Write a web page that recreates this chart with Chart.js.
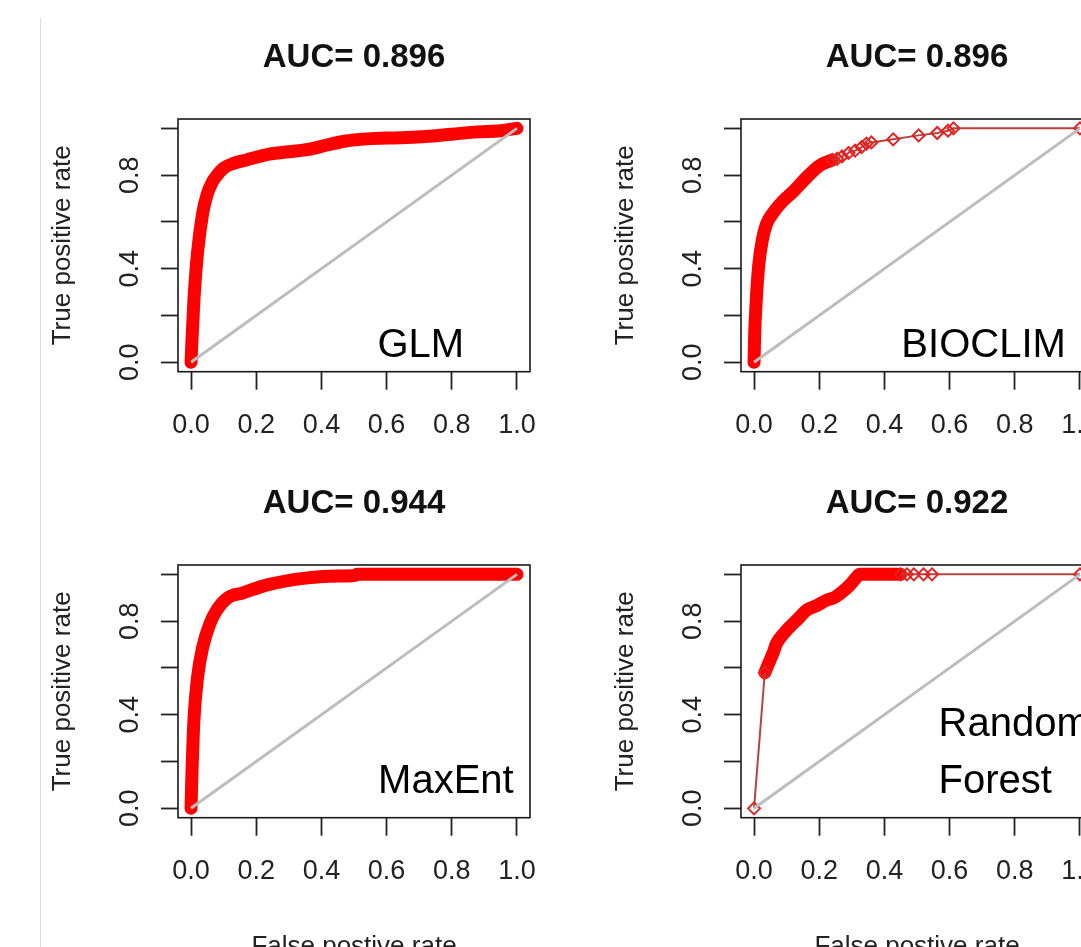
<!DOCTYPE html>
<html>
<head>
<meta charset="utf-8">
<title>ROC curves</title>
<script src="https://cdn.jsdelivr.net/npm/chart.js@4.4.1/dist/chart.umd.min.js"></script>
<style>
html, body { margin: 0; padding: 0; background: #fff; width: 1081px; height: 947px; overflow: hidden; }
.panel { position: absolute; }
#edge { position: absolute; left: 40px; top: 18px; width: 1px; height: 940px; background: #dcdcdc; }
</style>
</head>
<body>
<div id="edge"></div>
<canvas id="glm" class="panel" width="563" height="470" style="left:0px;top:0px"></canvas>
<canvas id="bio" class="panel" width="563" height="470" style="left:563px;top:0px"></canvas>
<canvas id="max" class="panel" width="563" height="510" style="left:0px;top:446px"></canvas>
<canvas id="rf" class="panel" width="563" height="510" style="left:563px;top:446px"></canvas>
<script>
// axis ticks (R skips the overlapping y labels)
var xTicks = [0, 0.2, 0.4, 0.6, 0.8, 1.0];
var yTicks = [0, 0.2, 0.4, 0.6, 0.8, 1.0];
var yTickLabels = ['0.0', '', '0.4', '', '0.8', ''];

var titles = ['AUC= 0.896', 'AUC= 0.896', 'AUC= 0.944', 'AUC= 0.922'];
var modelNames = [['GLM'], ['BIOCLIM'], ['MaxEnt'], ['Random', 'Forest']];
var xTitle = 'False postive rate';
var yTitle = 'True positive rate';

// diagonal reference line
var diagFpr = [0, 1];
var diagTpr = [0, 1];

// GLM
var glmFpr = [0, 0.003, 0.009, 0.02, 0.036, 0.05, 0.065, 0.08, 0.1, 0.13, 0.17, 0.24, 0.3, 0.36, 0.42, 0.47, 0.54, 0.64, 0.72, 0.8, 0.88, 0.95, 1.0];
var glmTpr = [0, 0.1, 0.27, 0.47, 0.64, 0.72, 0.77, 0.8, 0.83, 0.85, 0.865, 0.89, 0.9, 0.91, 0.93, 0.945, 0.955, 0.96, 0.965, 0.975, 0.985, 0.99, 1.0];

// BIOCLIM, dense part and the sparse points after it
var bioFpr = [0, 0.002, 0.007, 0.014, 0.025, 0.038, 0.059, 0.089, 0.12, 0.161, 0.2, 0.24];
var bioTpr = [0, 0.12, 0.27, 0.41, 0.52, 0.59, 0.64, 0.69, 0.73, 0.79, 0.84, 0.865];
var bioPtsFpr = [0.24, 0.255, 0.27, 0.29, 0.31, 0.33, 0.345, 0.36, 0.427, 0.505, 0.562, 0.595, 0.612, 1.0];
var bioPtsTpr = [0.865, 0.87, 0.88, 0.895, 0.905, 0.92, 0.935, 0.94, 0.953, 0.97, 0.98, 0.99, 1.0, 1.0];

// MaxEnt
var maxFpr = [0, 0.003, 0.009, 0.02, 0.036, 0.058, 0.08, 0.113, 0.157, 0.234, 0.344, 0.453, 0.5, 0.51, 0.6, 0.8, 1.0];
var maxTpr = [0, 0.16, 0.38, 0.56, 0.69, 0.79, 0.85, 0.9, 0.92, 0.955, 0.983, 0.993, 0.995, 1.0, 1.0, 1.0, 1.0];

// Random Forest
var rfFpr = [0.033, 0.045, 0.06, 0.069, 0.09, 0.11, 0.135, 0.161, 0.19, 0.223, 0.245, 0.264, 0.294, 0.31, 0.325, 0.39, 0.45];
var rfTpr = [0.58, 0.62, 0.67, 0.705, 0.745, 0.776, 0.81, 0.847, 0.865, 0.89, 0.9, 0.918, 0.954, 0.98, 1.0, 1.0, 1.0];
var rfPtsFpr = [0, 0.033, null, 0.45, 0.469, 0.49, 0.52, 0.546, 1.0];
var rfPtsTpr = [0, 0.58, null, 1.0, 1.0, 1.0, 1.0, 1.0, 1.0];

var FONT = '"Liberation Sans", Arial, sans-serif';

function pts(xs, ys) {
    var out = [];
    for (var i = 0; i < xs.length; i++) out.push({x: xs[i], y: ys[i]});
    return out;
}

// box, y labels, titles and model name, drawn with the chart's own scales
var framePlugin = {
    id: 'frame',
    afterDraw: function(chart) {
        var ctx = chart.ctx, a = chart.chartArea;
        var xs = chart.scales.x, ys = chart.scales.y;
        var p = chart.options.plugins.frame;
        ctx.save();
        ctx.strokeStyle = '#1a1a1a';
        ctx.lineWidth = 1.6;
        ctx.strokeRect(a.left, a.top, a.right - a.left, a.bottom - a.top);

        ctx.fillStyle = '#222';
        ctx.textAlign = 'center';
        ctx.textBaseline = 'alphabetic';
        ctx.font = '27px ' + FONT;
        for (var i = 0; i < yTicks.length; i++) {
            if (!yTickLabels[i]) continue;
            ctx.save();
            ctx.translate(a.left - 40, ys.getPixelForValue(yTicks[i]));
            ctx.rotate(-Math.PI / 2);
            ctx.fillText(yTickLabels[i], 0, 0);
            ctx.restore();
        }

        ctx.font = '26px ' + FONT;
        ctx.save();
        ctx.translate(a.left - 108, (a.top + a.bottom) / 2);
        ctx.rotate(-Math.PI / 2);
        ctx.fillText(yTitle, 0, 0);
        ctx.restore();

        if (p.xlab) ctx.fillText(xTitle, (a.left + a.right) / 2, a.bottom + 136);

        ctx.fillStyle = '#111';
        ctx.font = 'bold 33px ' + FONT;
        ctx.fillText(p.title, (a.left + a.right) / 2, a.top - 52);

        ctx.fillStyle = '#000';
        ctx.font = '40px ' + FONT;
        ctx.textAlign = 'left';
        for (var j = 0; j < p.name.length; j++) {
            ctx.fillText(p.name[j], xs.getPixelForValue(p.at[0]), ys.getPixelForValue(p.at[1]) + j * 57);
        }
        ctx.restore();
    }
};

function makePanel(id, height, idx, at, xlab, thick, sparse) {
    var datasets = [{
        data: pts(diagFpr, diagTpr),
        borderColor: '#bdbdbd',
        borderWidth: 3,
        pointRadius: 0
    }];
    if (sparse) {
        datasets.push({
            data: pts(sparse[0], sparse[1]),
            borderColor: '#b5433f',
            borderWidth: 2,
            pointStyle: 'rectRot',
            pointRadius: 6,
            pointBorderWidth: 2,
            pointBorderColor: '#e32222',
            pointBackgroundColor: 'rgba(255,255,255,0)',
            spanGaps: false
        });
    }
    datasets.push({
        data: pts(thick[0], thick[1]),
        borderColor: '#ff0000',
        borderWidth: 13,
        borderCapStyle: 'round',
        borderJoinStyle: 'round',
        cubicInterpolationMode: 'monotone',
        pointRadius: 0
    });

    var tickGrid = function(len) {
        return { display: true, drawOnChartArea: false, drawTicks: true, tickLength: len, tickColor: '#222', tickWidth: 1.8 };
    };

    new Chart(document.getElementById(id), {
        type: 'scatter',
        data: { datasets: datasets },
        options: {
            responsive: false,
            animation: false,
            events: [],
            showLine: true,
            layout: { padding: { left: 160, top: 119, right: 33, bottom: height - 119 - 252.7 - 80 } },
            plugins: {
                legend: { display: false },
                tooltip: { enabled: false },
                frame: { title: titles[idx], name: modelNames[idx], at: at, xlab: xlab }
            },
            scales: {
                x: {
                    type: 'linear', min: -0.04, max: 1.04,
                    afterBuildTicks: function(s) { s.ticks = xTicks.map(function(v) { return {value: v}; }); },
                    afterFit: function(s) { s.height = 80; },
                    grid: tickGrid(18),
                    border: { display: false },
                    ticks: {
                        padding: 20, color: '#222', autoSkip: false, maxRotation: 0,
                        font: { family: FONT, size: 27 },
                        callback: function(v) { return v.toFixed(1); }
                    }
                },
                y: {
                    type: 'linear', min: -0.04, max: 1.04,
                    afterBuildTicks: function(s) { s.ticks = yTicks.map(function(v) { return {value: v}; }); },
                    afterFit: function(s) { s.width = 18; },
                    grid: tickGrid(17),
                    border: { display: false },
                    ticks: { display: false }
                }
            }
        },
        plugins: [framePlugin]
    });
}

makePanel('glm', 470, 0, [0.572, 0.022], false, [glmFpr, glmTpr], null);
makePanel('bio', 470, 1, [0.452, 0.022], false, [bioFpr, bioTpr], [bioPtsFpr, bioPtsTpr]);
makePanel('max', 510, 2, [0.574, 0.065], true, [maxFpr, maxTpr], null);
makePanel('rf', 510, 3, [0.566, 0.31], true, [rfFpr, rfTpr], [rfPtsFpr, rfPtsTpr]);
</script>
</body>
</html>
